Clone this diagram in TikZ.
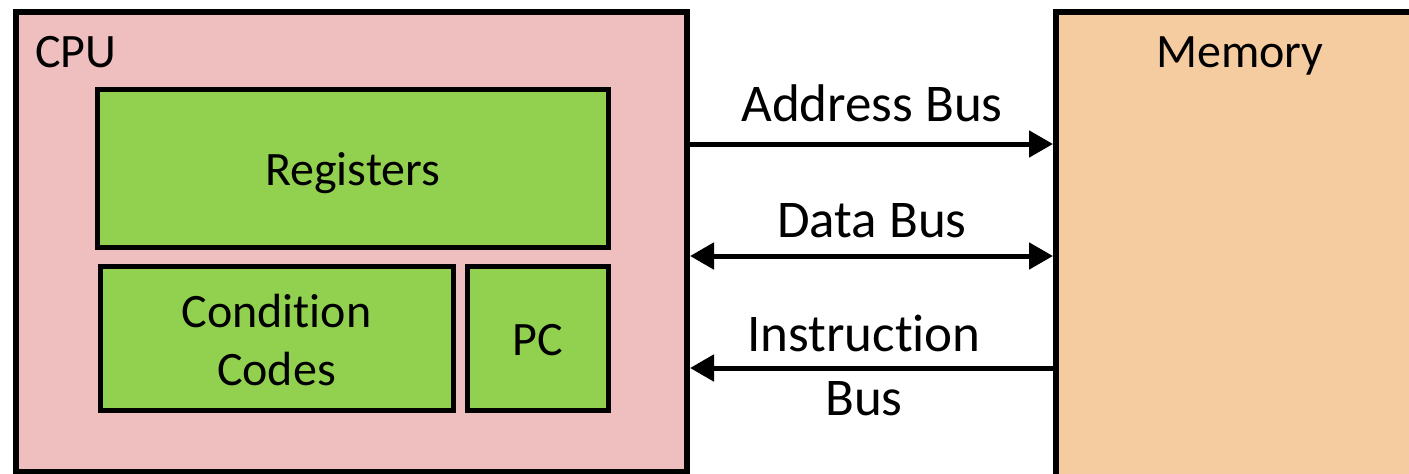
\documentclass[tikz,border=0pt]{standalone}
\usepackage{fontspec}
\setmainfont[Ligatures={NoCommon}]{Carlito}
\usetikzlibrary{arrows.meta}
\definecolor{cpupink}{RGB}{239,191,191}
\definecolor{regreen}{RGB}{146,208,80}
\definecolor{mempeach}{RGB}{245,203,160}
\begin{document}
\begin{tikzpicture}[x=1pt,y=-1pt,
  bigbox/.style={draw=black,line width=6pt,rectangle,inner sep=0pt},
  greenbox/.style={draw=black,line width=5pt,fill=regreen,rectangle,inner sep=0pt},
  lbl/.style={font=\fontsize{48}{58}\selectfont,inner sep=0pt,align=center},
  buslbl/.style={font=\fontsize{53}{64}\selectfont,inner sep=0pt,align=center},
  bus/.style={line width=5pt,draw=black}]
\useasboundingbox (0,0) rectangle (1409,474);
\clip (0,0) rectangle (1409,474);
\node[bigbox,fill=cpupink,minimum width=671pt,minimum height=460pt] (cpu) at (351.5,241.5) {};
\node[bigbox,fill=mempeach,minimum width=404pt,minimum height=508pt] (mem) at (1258,265.5) {};
\node[lbl,anchor=west] (cpulbl) at (35,52) {CPU};
\node[lbl] (memlbl) at (1240,56) {Memory};
\node[greenbox,minimum width=510.5pt,minimum height=158pt] (reg) at (352.75,168) {};
\node[greenbox,minimum width=353pt,minimum height=144pt] (cc) at (276.5,338) {};
\node[greenbox,minimum width=141pt,minimum height=144pt] (pc) at (537.5,338) {};
\node[lbl] (reglbl) at (reg.center) [yshift=-5pt] {Registers};
\node[lbl] (cclbl) at (cc.center) [yshift=-2pt] {Condition\\Codes};
\node[lbl] (pclbl) at (pc.center) [yshift=-2pt] {PC};
\coordinate (ya) at (0,144);
\coordinate (yd) at (0,256);
\coordinate (yi) at (0,368);
\draw[bus,-{Triangle[length=24pt,width=26pt]}] (cpu.east |- ya) -- (mem.west |- ya);
\draw[bus,{Triangle[length=24pt,width=26pt]}-{Triangle[length=24pt,width=26pt]}] (cpu.east |- yd) -- (mem.west |- yd);
\draw[bus,{Triangle[length=24pt,width=26pt]}-] (cpu.east |- yi) -- (mem.west |- yi);
\node[buslbl] (albl) at (872,103) {Address Bus};
\node[buslbl] (dlbl) at (872,221) {Data Bus};
\node[buslbl] (ilbl) at (864,365) {Instruction\\Bus};
\end{tikzpicture}
\end{document}
